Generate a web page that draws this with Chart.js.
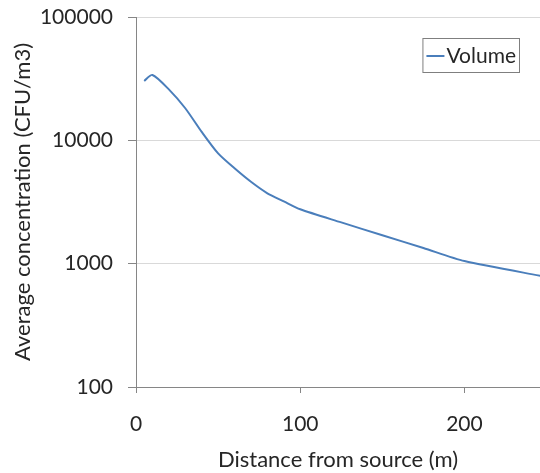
<!DOCTYPE html>
<html>
<head>
<meta charset="utf-8">
<script src="https://cdn.jsdelivr.net/npm/chart.js@4"></script>
<style>
  html, body { margin: 0; padding: 0; background: #fff; }
  canvas { display: block; }
</style>
</head>
<body>
<canvas id="chart" width="540" height="473"></canvas>
<script>
  const seriesName = 'Volume';
  const distances = [5, 10, 20, 30, 40, 50, 60, 70, 80, 90, 100, 125, 150, 175, 200, 250];
  const concentrations = [30300, 33900, 25900, 18200, 11700, 7830, 5930, 4610, 3720, 3200, 2760, 2160, 1700, 1340, 1050, 780];
  const xTicks = [0, 100, 200];
  const yTicks = [100, 1000, 10000, 100000];

  const axisColor = '#868686';
  const gridColor = '#d9d9d9';
  const fontFamily = 'Lato, "Open Sans", sans-serif';

  // legend drawn inside the plot with a thin frame, like the original
  const boxedLegend = {
    id: 'boxedLegend',
    afterDraw(chart) {
      const { ctx, chartArea } = chart;
      const ds = chart.data.datasets[0];
      ctx.save();
      ctx.font = `21px ${fontFamily}`;
      const textW = ctx.measureText(ds.label).width;
      const sample = 18;
      const w = 4 + sample + 2 + textW + 3;
      const h = 34;
      const x = chartArea.right - 21 - w;
      const y = chartArea.top + 21;
      ctx.strokeStyle = '#7f7f7f';
      ctx.lineWidth = 1;
      ctx.strokeRect(x + 0.5, y + 0.5, w, h);
      ctx.strokeStyle = ds.borderColor;
      ctx.lineWidth = 2;
      ctx.beginPath();
      ctx.moveTo(x + 4, y + h / 2 + 1);
      ctx.lineTo(x + 4 + sample, y + h / 2 + 1);
      ctx.stroke();
      ctx.fillStyle = '#262626';
      ctx.textBaseline = 'middle';
      ctx.fillText(ds.label, x + 4 + sample + 2, y + h / 2 + 1);
      ctx.restore();
    }
  };

  new Chart(document.getElementById('chart'), {
    type: 'line',
    data: {
      datasets: [{
        label: seriesName,
        data: distances.map((d, i) => ({ x: d, y: concentrations[i] })),
        borderColor: '#4a7ebb',
        backgroundColor: '#4a7ebb',
        borderWidth: 2,
        pointRadius: 0,
        tension: 0.25,
        fill: false
      }]
    },
    options: {
      responsive: false,
      animation: false,
      devicePixelRatio: 1,
      layout: { padding: 0 },
      plugins: {
        legend: { display: false },
        tooltip: { enabled: false }
      },
      scales: {
        x: {
          type: 'linear',
          min: 0,
          max: 246,
          afterBuildTicks: (axis) => { axis.ticks = xTicks.map((v) => ({ value: v })); },
          afterFit: (axis) => {
            axis.height = 86;
            axis.paddingLeft = 0;
            axis.paddingRight = 0;
          },
          border: { display: true, color: axisColor, width: 1 },
          grid: { drawOnChartArea: false, drawTicks: true, tickLength: 6, tickColor: axisColor },
          ticks: { color: '#262626', padding: 19, font: { family: fontFamily, size: 21 } },
          title: {
            display: true,
            text: 'Distance from source (m)',
            color: '#262626',
            padding: { top: 0, bottom: 0 },
            font: { family: fontFamily, size: 22 }
          }
        },
        y: {
          type: 'logarithmic',
          min: 100,
          max: 100000,
          afterBuildTicks: (axis) => { axis.ticks = yTicks.map((v) => ({ value: v })); },
          afterFit: (axis) => {
            axis.width = 136;
            axis.paddingTop = 17;
            axis.paddingBottom = 0;
          },
          border: { display: true, color: axisColor, width: 1 },
          grid: { color: gridColor, tickLength: 8, tickColor: axisColor },
          ticks: {
            color: '#262626',
            padding: 15,
            font: { family: fontFamily, size: 21 },
            callback: (value) => String(value)
          },
          title: {
            display: true,
            text: 'Average concentration (CFU/m3)',
            color: '#262626',
            padding: { top: 10, bottom: 0 },
            font: { family: fontFamily, size: 22 }
          }
        }
      }
    },
    plugins: [boxedLegend]
  });
</script>
</body>
</html>
